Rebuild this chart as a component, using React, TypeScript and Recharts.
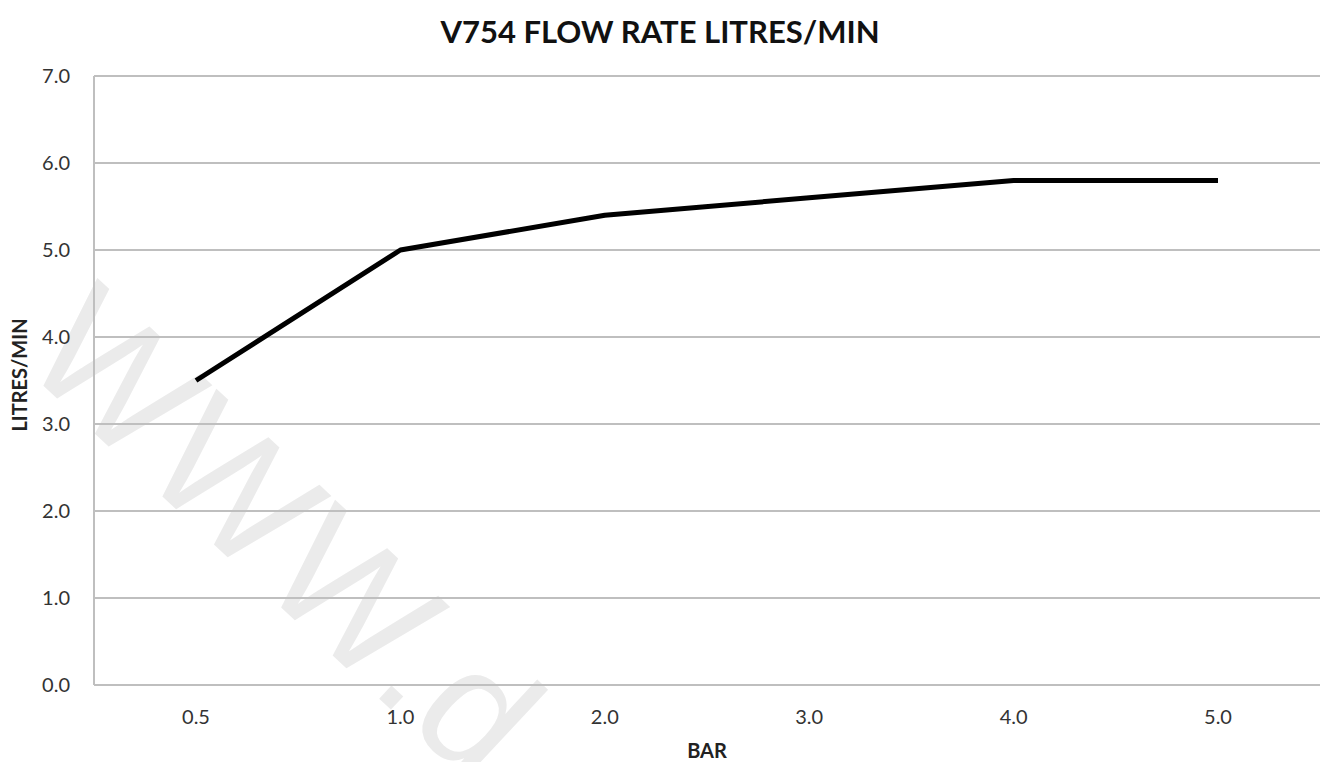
import React from 'react'
import { LineChart, Line, XAxis, YAxis, CartesianGrid } from 'recharts'

// pressure in bar (category axis) and flow in litres/min
const pressures = ['0.5', '1.0', '2.0', '3.0', '4.0', '5.0']
const flowRates = [3.5, 5.0, 5.4, 5.6, 5.8, 5.8]
const yTicks = [0, 1, 2, 3, 4, 5, 6, 7]

const chartData = pressures.map((bar, i) => ({ bar, flow: flowRates[i] }))

const FONT = 'Lato, "Open Sans", sans-serif'
const GRID = '#bfbfbf'

export default function App() {
  return (
    <div style={{ position: 'absolute', left: 0, top: 0, width: 1320, height: 762, background: '#fff', overflow: 'hidden' }}>
      <style>{'html,body{margin:0;overflow:hidden}'}</style>

      {/* faint watermark behind the chart */}
      <svg width={1320} height={762} style={{ position: 'absolute', left: 0, top: 0 }}>
        <text
          transform="translate(18,362) rotate(43)"
          fontFamily='"Liberation Sans", Arial, sans-serif'
          fontSize={168}
          letterSpacing={4}
          fill="#ebebeb"
        >
          WWW.d
        </text>
      </svg>

      <div style={{ position: 'absolute', left: 0, top: 0 }}>
        <LineChart width={1320} height={762} data={chartData} margin={{ top: 76, right: 0, bottom: 47, left: 0 }}>
          <CartesianGrid vertical={false} stroke={GRID} strokeWidth={2} />
          <XAxis
            dataKey="bar"
            height={30}
            padding={{ left: 102, right: 102 }}
            axisLine={{ stroke: GRID, strokeWidth: 2 }}
            tickLine={false}
            tickSize={0}
            tickMargin={25}
            tick={{ fill: '#333', fontSize: 20, fontFamily: FONT }}
          />
          <YAxis
            width={94}
            domain={[0, 7]}
            ticks={yTicks}
            tickFormatter={(v: number) => v.toFixed(1)}
            axisLine={{ stroke: GRID, strokeWidth: 2 }}
            tickLine={false}
            tickSize={0}
            tickMargin={24}
            tick={{ fill: '#333', fontSize: 20, fontFamily: FONT }}
          />
          <Line
            type="linear"
            dataKey="flow"
            stroke="#000"
            strokeWidth={5}
            strokeLinejoin="round"
            dot={false}
            isAnimationActive={false}
          />
        </LineChart>
      </div>

      {/* title and axis titles */}
      <svg width={1320} height={762} style={{ position: 'absolute', left: 0, top: 0, pointerEvents: 'none' }}>
        <text x={660} y={43} textAnchor="middle" fontFamily={FONT} fontWeight={700} fontSize={31} fill="#111">
          V754 FLOW RATE LITRES/MIN
        </text>
        <text x={707} y={758} textAnchor="middle" fontFamily={FONT} fontWeight={700} fontSize={20} fill="#222">
          BAR
        </text>
        <text transform="translate(27,375) rotate(-90)" textAnchor="middle" fontFamily={FONT} fontWeight={700} fontSize={20} fill="#222">
          LITRES/MIN
        </text>
      </svg>
    </div>
  )
}
